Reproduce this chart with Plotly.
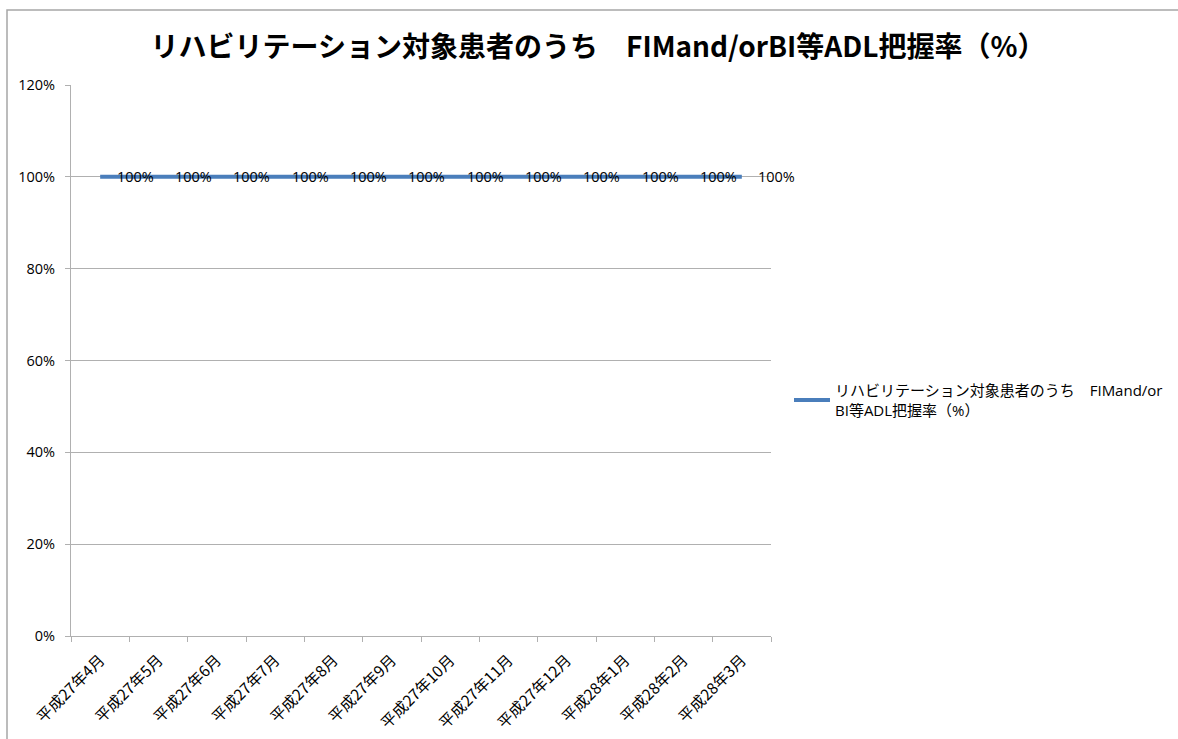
import plotly.graph_objects as go

# Monthly values (fraction of rehab patients assessed with FIM and/or BI)
months = ["平成27年4月", "平成27年5月", "平成27年6月", "平成27年7月", "平成27年8月", "平成27年9月",
          "平成27年10月", "平成27年11月", "平成27年12月", "平成28年1月", "平成28年2月", "平成28年3月"]
rates = [1.0, 1.0, 1.0, 1.0, 1.0, 1.0, 1.0, 1.0, 1.0, 1.0, 1.0, 1.0]
y_ticks = [0, 0.2, 0.4, 0.6, 0.8, 1.0, 1.2]

series_name = "リハビリテーション対象患者のうち　FIMand/or<br>BI等ADL把握率（%）"
title_text = "リハビリテーション対象患者のうち　FIMand/orBI等ADL把握率（%）"

JP = "Noto Sans CJK JP"
MIX = "Open Sans, Noto Sans CJK JP"
GRID = "#b0b0b0"

fig = go.Figure()
fig.add_trace(go.Scatter(
    x=months, y=rates, mode="lines", name=series_name,
    line=dict(color="#4a7ebb", width=4),
))

# value labels to the right of each point
for m, v in zip(months, rates):
    fig.add_annotation(x=m, y=v, text=f"{v:.0%}", showarrow=False,
                       xshift=35, font=dict(family=MIX, size=14.5, color="#000"))

W, H = 1178, 739
L, R, T, B = 71, 407, 85, 103
pw, ph = W - L - R, H - T - B

# outer chart frame
fig.add_shape(type="rect", xref="paper", yref="paper",
              x0=(7 - L) / pw, x1=(W + 5 - L) / pw,
              y0=-(H + 5 - T - ph) / ph, y1=1 + (T - 10) / ph,
              line=dict(color="#a6a6a6", width=1.5), fillcolor="rgba(0,0,0,0)")

fig.update_layout(
    width=W, height=H,
    margin=dict(l=L, r=R, t=T, b=B, autoexpand=False),
    paper_bgcolor="white", plot_bgcolor="white",
    title=dict(text=title_text, x=(598 - L) / pw, xref="paper", xanchor="center",
               y=1 - 47 / H, yanchor="middle",
               font=dict(family=JP, size=28, color="#000", weight="bold")),
    showlegend=True,
    legend=dict(x=(789 - L) / pw, y=(H - B - 374) / ph, xanchor="left", yanchor="top",
                font=dict(family=MIX, size=15, color="#000"), bgcolor="rgba(0,0,0,0)",
                itemwidth=36),
    font=dict(family=MIX, color="#000"),
)

fig.update_xaxes(
    type="category", range=[-0.5, len(months) - 0.5], tickson="boundaries",
    ticks="outside", ticklen=5,
    tickcolor=GRID, showline=True, linecolor=GRID, linewidth=1,
    showgrid=False, tickangle=-45, ticklabelstandoff=8,
    tickfont=dict(family=JP, size=15.5, color="#000"),
)
fig.update_yaxes(
    range=[0, 1.2], tickvals=y_ticks, tickformat=".0%", ticks="outside", ticklen=5,
    tickcolor=GRID, showline=True, linecolor=GRID, linewidth=1,
    showgrid=True, gridcolor=GRID, gridwidth=1, zeroline=False,
    ticklabelstandoff=7,
    tickfont=dict(family=MIX, size=14.5, color="#000"),
)

fig.write_html("out.html")
